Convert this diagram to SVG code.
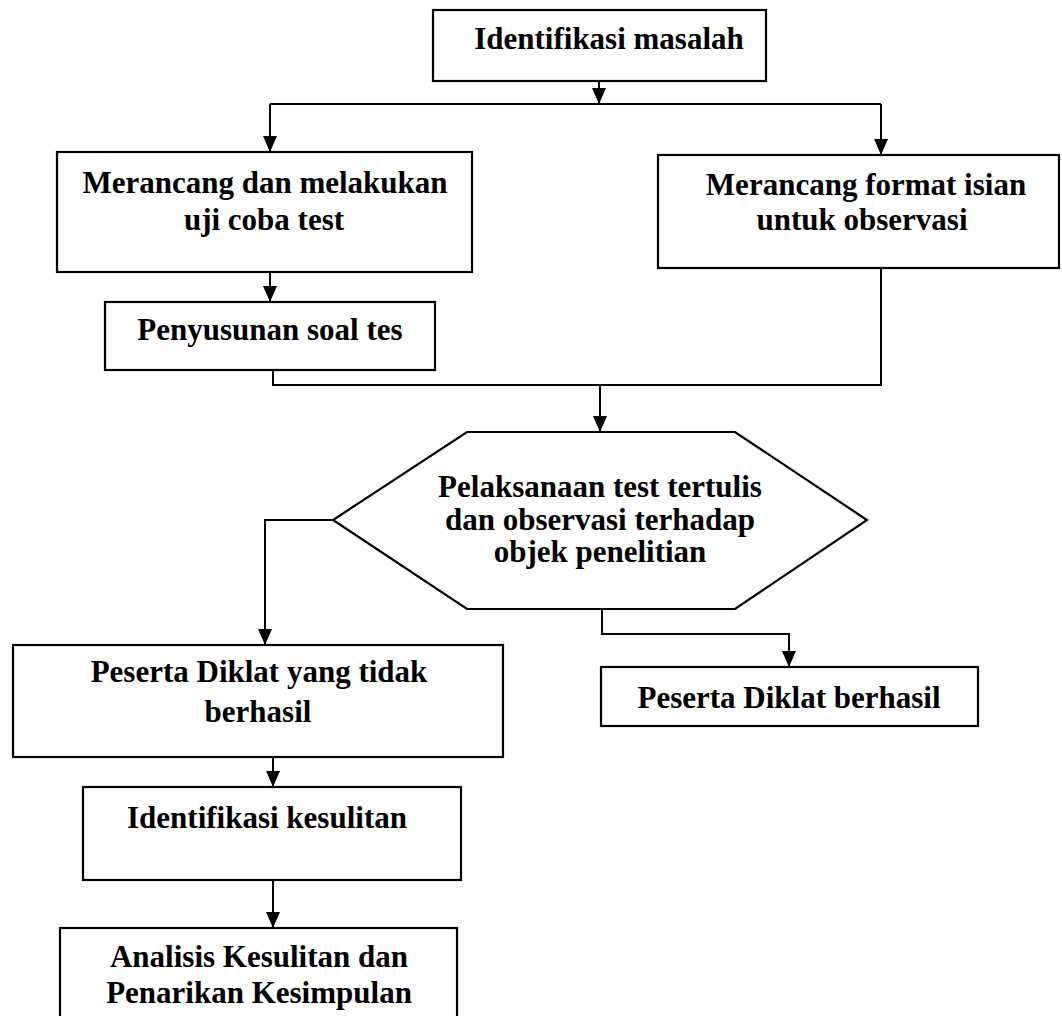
<svg xmlns="http://www.w3.org/2000/svg" width="1062" height="1016" viewBox="0 0 1062 1016">
<style>
.box{fill:#fff;stroke:#000;stroke-width:2.2}
.t{font-family:"Liberation Serif","Times New Roman",serif;font-weight:bold;font-size:31px;fill:#000;text-anchor:middle}
.c{fill:none;stroke:#000;stroke-width:2}
</style>
<defs>
<marker id="ah" markerUnits="userSpaceOnUse" markerWidth="16" markerHeight="14" viewBox="0 0 16 14" refX="16" refY="7" orient="auto">
<path d="M0,0 L16,7 L0,14 z" fill="#000"/>
</marker>
</defs>
<rect width="1062" height="1016" fill="#fff"/>
<g id="connectors">
<line class="c" x1="599" y1="81" x2="599" y2="104" marker-end="url(#ah)"/>
<polyline class="c" points="270,104 881,104"/>
<line class="c" x1="270" y1="104" x2="270" y2="152" marker-end="url(#ah)"/>
<line class="c" x1="881" y1="104" x2="881" y2="155" marker-end="url(#ah)"/>
<line class="c" x1="270" y1="272" x2="270" y2="302" marker-end="url(#ah)"/>
<polyline class="c" points="273,370 273,385 881,385 881,268"/>
<line class="c" x1="600" y1="385" x2="600" y2="432" marker-end="url(#ah)"/>
<polyline class="c" points="333,520 265,520 265,645" marker-end="url(#ah)"/>
<polyline class="c" points="602,609 602,634 789,634 789,667" marker-end="url(#ah)"/>
<line class="c" x1="273" y1="757" x2="273" y2="787" marker-end="url(#ah)"/>
<line class="c" x1="273" y1="880" x2="273" y2="928" marker-end="url(#ah)"/>
</g>
<g id="n1">
<rect class="box" x="433" y="10" width="333" height="71"/>
<text class="t" x="609" y="49">Identifikasi masalah</text>
</g>
<g id="n2">
<rect class="box" x="57" y="152" width="415" height="120"/>
<text class="t" x="265" y="193">Merancang dan melakukan</text>
<text class="t" x="264" y="230">uji coba test</text>
</g>
<g id="n3">
<rect class="box" x="658" y="155" width="401" height="113"/>
<text class="t" x="866" y="195">Merancang format isian</text>
<text class="t" x="862" y="230">untuk observasi</text>
</g>
<g id="n4">
<rect class="box" x="105" y="302" width="330" height="68"/>
<text class="t" x="270" y="340">Penyusunan soal tes</text>
</g>
<g id="n5">
<polygon class="box" points="467,432 735,432 867,520 735,609 467,609 333,520"/>
<text class="t" x="600" y="497">Pelaksanaan test tertulis</text>
<text class="t" x="600" y="530">dan observasi terhadap</text>
<text class="t" x="600" y="562">objek penelitian</text>
</g>
<g id="n6">
<rect class="box" x="13" y="645" width="490" height="112"/>
<text class="t" x="259" y="682">Peserta Diklat yang tidak</text>
<text class="t" x="258" y="722">berhasil</text>
</g>
<g id="n7">
<rect class="box" x="601" y="667" width="377" height="59"/>
<text class="t" x="789" y="708">Peserta Diklat berhasil</text>
</g>
<g id="n8">
<rect class="box" x="83" y="787" width="378" height="93"/>
<text class="t" x="267" y="828">Identifikasi kesulitan</text>
</g>
<g id="n9">
<rect class="box" x="60" y="928" width="397" height="100"/>
<text class="t" x="259" y="967">Analisis Kesulitan dan</text>
<text class="t" x="259" y="1003">Penarikan Kesimpulan</text>
</g>
</svg>
